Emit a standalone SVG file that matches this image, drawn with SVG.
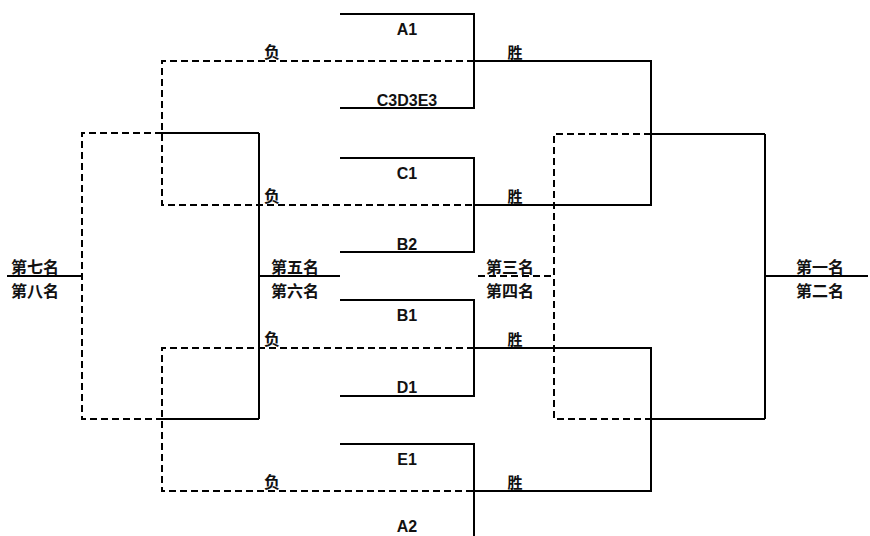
<svg xmlns="http://www.w3.org/2000/svg" width="870" height="536" viewBox="0 0 870 536">
<style>
.s{fill:none;stroke:#000;stroke-width:2}
.d{fill:none;stroke:#000;stroke-width:2;stroke-dasharray:7,4}
.t{font-family:"Liberation Sans",Arial,sans-serif;font-weight:bold;font-size:16px;text-anchor:middle;fill:#111}
.c{font-family:"Noto Sans CJK SC","Noto Sans",sans-serif;font-weight:bold;font-size:16px;text-anchor:middle;fill:#111}
.w{font-size:15px}
</style>
<rect width="870" height="536" fill="#fff"/>
<g id="connectors">
<polyline class="s" points="340,14 474,14 474,108 340,108"/>
<polyline class="s" points="340,158 474,158 474,252 340,252"/>
<polyline class="s" points="340,300 474,300 474,396 340,396"/>
<polyline class="s" points="340,444 474,444 474,537"/>
<polyline class="s" points="474,61 651,61 651,205 474,205"/>
<polyline class="s" points="474,348 651,348 651,491 474,491"/>
<line class="s" x1="651" y1="134" x2="765" y2="134"/>
<line class="s" x1="651" y1="419" x2="765" y2="419"/>
<line class="s" x1="765" y1="134" x2="765" y2="419"/>
<line class="s" x1="765" y1="276" x2="868" y2="276"/>
<polyline class="d" points="651,134 554,134 554,419 651,419"/>
<line class="d" x1="478" y1="276" x2="554" y2="276"/>
<polyline class="d" points="474,61 162,61 162,205 474,205"/>
<polyline class="d" points="474,348 162,348 162,491 474,491"/>
<line class="s" x1="162" y1="133" x2="259" y2="133"/>
<line class="s" x1="162" y1="419" x2="259" y2="419"/>
<line class="s" x1="259" y1="133" x2="259" y2="419"/>
<line class="s" x1="259" y1="276" x2="340" y2="276"/>
<polyline class="d" points="162,133 82,133 82,419 162,419"/>
<line class="s" x1="7" y1="276" x2="82" y2="276"/>
</g>
<g id="team-A1"><text class="t" x="407" y="35">A1</text></g>
<g id="team-C3D3E3"><text class="t" x="407" y="106">C3D3E3</text></g>
<g id="team-C1"><text class="t" x="407" y="179">C1</text></g>
<g id="team-B2"><text class="t" x="407" y="250">B2</text></g>
<g id="team-B1"><text class="t" x="407" y="321">B1</text></g>
<g id="team-D1"><text class="t" x="407" y="393">D1</text></g>
<g id="team-E1"><text class="t" x="407" y="465">E1</text></g>
<g id="team-A2"><text class="t" x="407" y="532">A2</text></g>
<g id="labels-lose">
<text class="c" x="272" y="58">负</text>
<text class="c" x="272" y="202">负</text>
<text class="c" x="272" y="345">负</text>
<text class="c" x="272" y="488">负</text>
</g>
<g id="labels-win">
<text class="c w" x="515" y="58">胜</text>
<text class="c w" x="515" y="202">胜</text>
<text class="c w" x="515" y="345">胜</text>
<text class="c w" x="515" y="488">胜</text>
</g>
<g id="place-7-8"><text class="c" x="35" y="273">第七名</text><text class="c" x="35" y="297">第八名</text></g>
<g id="place-5-6"><text class="c" x="295" y="273">第五名</text><text class="c" x="295" y="297">第六名</text></g>
<g id="place-3-4"><text class="c" x="510" y="273">第三名</text><text class="c" x="510" y="297">第四名</text></g>
<g id="place-1-2"><text class="c" x="820" y="273">第一名</text><text class="c" x="820" y="297">第二名</text></g>
</svg>
